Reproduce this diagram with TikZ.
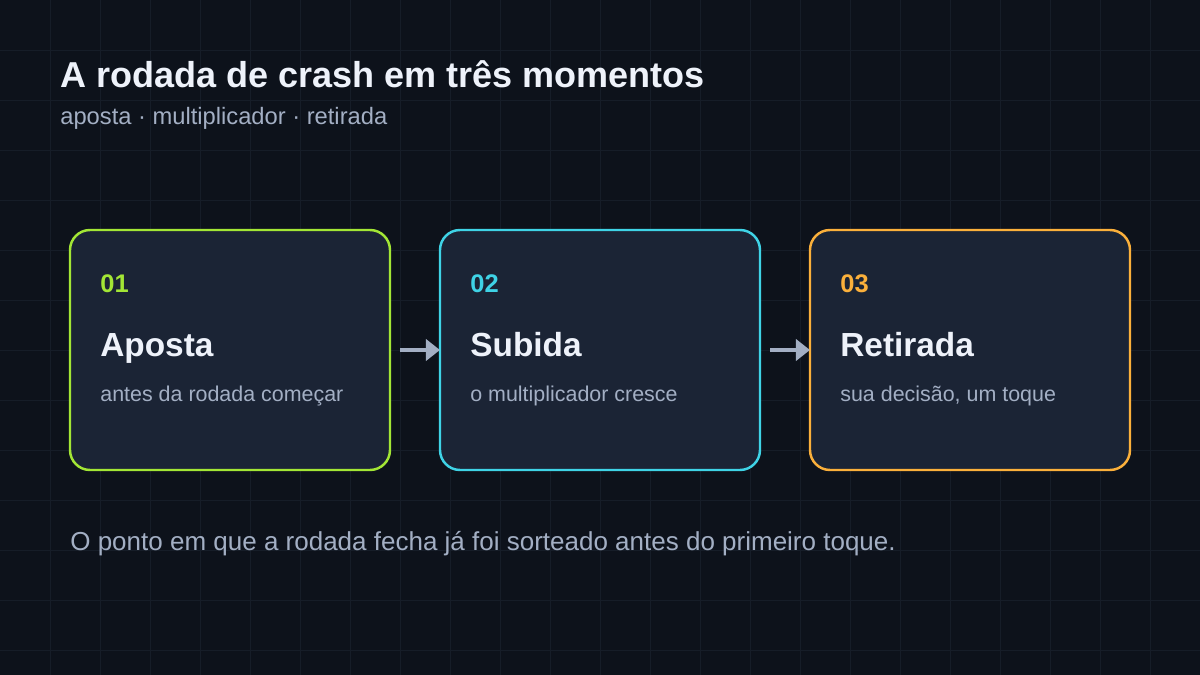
\documentclass[tikz,border=0pt]{standalone}
\usepackage{fontspec}
\setmainfont{Liberation Sans}
\usetikzlibrary{arrows.meta}
\definecolor{bgdark}{HTML}{0D121B}
\definecolor{gridc}{HTML}{161D28}
\definecolor{cardbg}{HTML}{1B2435}
\definecolor{titlec}{HTML}{EEF2FA}
\definecolor{mutedc}{HTML}{A3AFC4}
\definecolor{limec}{HTML}{A3E635}
\definecolor{cyanc}{HTML}{3FD3E6}
\definecolor{amberc}{HTML}{FBB03B}
\tikzset{
  card/.style={draw=#1, line width=1.4pt, fill=cardbg, rounded corners=0.4cm},
  num/.style={anchor=base west, font=\fontsize{14.5}{17}\selectfont\bfseries, text=#1},
  steptitle/.style={anchor=base west, font=\fontsize{19}{22}\selectfont\bfseries, text=titlec},
  desc/.style={anchor=base west, font=\fontsize{12.2}{14}\selectfont, text=mutedc},
  flow/.style={-{Triangle[length=8pt,width=12pt]}, line width=2.8pt, draw=mutedc}
}
\begin{document}
\begin{tikzpicture}[x=0.02cm, y=-0.02cm]
  \fill[bgdark] (0,0) rectangle (1200,675);
  \useasboundingbox (0,0) rectangle (1200,675);
  % grid
  \foreach \gx in {50,100,...,1150} \draw[gridc, line width=0.4pt] (\gx,0) -- (\gx,675);
  \foreach \gy in {50,100,...,650} \draw[gridc, line width=0.4pt] (0,\gy) -- (1200,\gy);
  % header
  \node[anchor=base west, inner sep=0, font=\fontsize{20.5}{24}\selectfont\bfseries, text=titlec] (title) at (60,88) {A rodada de crash em três momentos};
  \node[anchor=base west, inner sep=0, font=\fontsize{13.5}{16}\selectfont, text=mutedc] (subtitle) at (60,125) {aposta · multiplicador · retirada};
  % cards
  \foreach \cx/\col/\nr/\name/\txt [count=\i] in {70/limec/01/Aposta/antes da rodada começar,
      440/cyanc/02/Subida/o multiplicador cresce,
      810/amberc/03/Retirada/{sua decisão, um toque}} {
    \draw[card=\col] (\cx,230) rectangle (\cx+320,470);
    \coordinate (left\i) at (\cx,350);
    \coordinate (right\i) at (\cx+320,350);
    \node[num=\col, inner sep=0] (num\i) at (\cx+30,293) {\nr};
    \node[steptitle, inner sep=0] (step\i) at (\cx+30,357) {\name};
    \node[desc, inner sep=0] (desc\i) at (\cx+30,401) {\txt};
  }
  % arrows
  \draw[flow] ([xshift=0.2cm]right1) -- (left2);
  \draw[flow] ([xshift=0.2cm]right2) -- (left3);
  % note
  \node[anchor=base west, inner sep=0, font=\fontsize{14.8}{17}\selectfont, text=mutedc] (note) at (70,550) {O ponto em que a rodada fecha já foi sorteado antes do primeiro toque.};
\end{tikzpicture}
\end{document}
